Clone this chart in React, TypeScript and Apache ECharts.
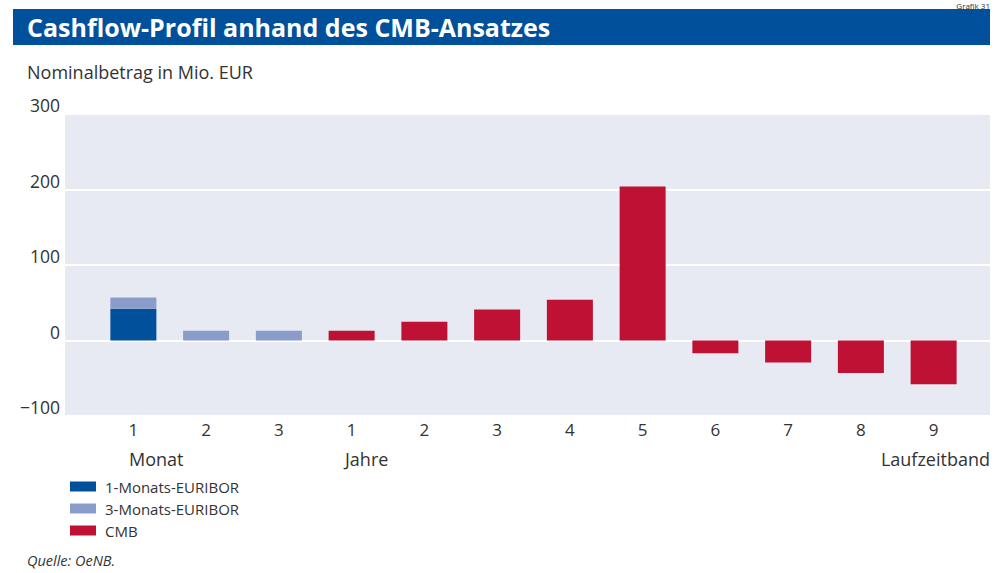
import React, { useEffect, useRef } from "react";
import * as echarts from "echarts";

const categories = ["1", "2", "3", "1", "2", "3", "4", "5", "6", "7", "8", "9"];
const euribor1M: (number | string)[] = [42, "-", "-", "-", "-", "-", "-", "-", "-", "-", "-", "-"];
const euribor3M: (number | string)[] = [15, 13, 13, "-", "-", "-", "-", "-", "-", "-", "-", "-"];
const cmb: (number | string)[] = ["-", "-", "-", 13, 25, 41, 54, 204, -17, -29, -43, -58];
const yTicks = { min: -100, max: 300, interval: 100 };

const FONT = "'Open Sans', Lato, sans-serif";
const TXT = "#333333";

export default function App() {
  const ref = useRef<HTMLDivElement>(null);
  useEffect(() => {
    const chart = echarts.init(ref.current!, null, { renderer: "svg" });
    chart.setOption({
      animation: false,
      textStyle: { fontFamily: FONT },
      grid: [
        { left: 97, right: 27, top: 114, bottom: 157, containLabel: false },
        { left: 65, right: 7, top: 114, bottom: 157, show: true, backgroundColor: "#e7eaf3", borderWidth: 0, z: 0 },
      ],
      xAxis: [
        {
          type: "category",
          data: categories,
          gridIndex: 0,
          axisLine: { show: false },
          axisTick: { show: false },
          axisLabel: { color: TXT, fontSize: 17, fontFamily: FONT, margin: 5 },
        },
        { type: "value", gridIndex: 1, show: false, min: 0, max: 1 },
      ],
      yAxis: [
        {
          type: "value",
          gridIndex: 0,
          ...yTicks,
          splitLine: { show: false },
          axisLine: { show: false },
          axisTick: { show: false },
          axisLabel: {
            color: TXT,
            fontSize: 17.5,
            fontFamily: FONT,
            margin: 37,
            verticalAlign: "bottom",
            lineHeight: 18,
            formatter: (v: number) => String(v).replace("-", "\u2212"),
          },
        },
        {
          type: "value",
          gridIndex: 1,
          ...yTicks,
          axisLabel: { show: false },
          axisLine: { show: false },
          axisTick: { show: false },
          splitLine: { show: true, lineStyle: { color: "#ffffff", width: 2 } },
        },
      ],
      legend: {
        orient: "vertical",
        left: 65,
        top: 474,
        itemWidth: 26,
        itemHeight: 10,
        itemGap: 7,
        icon: "rect",
        textStyle: { color: TXT, fontSize: 15, fontFamily: FONT, padding: [0, 0, 0, 4] },
        data: ["1-Monats-EURIBOR", "3-Monats-EURIBOR", "CMB"],
      },
      series: [
        { name: "1-Monats-EURIBOR", type: "bar", stack: "a", data: euribor1M, barWidth: 46, itemStyle: { color: "#00509b" }, z: 3 },
        { name: "3-Monats-EURIBOR", type: "bar", stack: "a", data: euribor3M, barWidth: 46, itemStyle: { color: "#8a9cc9" }, z: 3 },
        { name: "CMB", type: "bar", stack: "a", data: cmb, barWidth: 46, itemStyle: { color: "#be1134" }, z: 3 },
      ],
      graphic: [
        { type: "rect", shape: { x: 13, y: 9, width: 977, height: 36 }, style: { fill: "#00509b" } },
        {
          type: "text",
          x: 27,
          y: 27,
          style: { text: "Cashflow-Profil anhand des CMB-Ansatzes", fill: "#ffffff", font: `bold 25px ${FONT}`, verticalAlign: "middle" },
        },
        { type: "text", x: 990, y: 1, style: { text: "Grafik 31", fill: TXT, font: `8px ${FONT}`, align: "right", verticalAlign: "top" } },
        { type: "text", x: 27, y: 72, style: { text: "Nominalbetrag in Mio. EUR", fill: TXT, font: `18px ${FONT}`, verticalAlign: "middle" } },
        { type: "text", x: 129, y: 459, style: { text: "Monat", fill: TXT, font: `18px ${FONT}`, verticalAlign: "middle" } },
        { type: "text", x: 345, y: 459, style: { text: "Jahre", fill: TXT, font: `18px ${FONT}`, verticalAlign: "middle" } },
        { type: "text", x: 990, y: 459, style: { text: "Laufzeitband", fill: TXT, font: `18px ${FONT}`, align: "right", verticalAlign: "middle" } },
        { type: "text", x: 27, y: 560, style: { text: "Quelle: OeNB.", fill: TXT, font: `italic 14.5px ${FONT}`, verticalAlign: "middle" } },
      ],
    });
    return () => chart.dispose();
  }, []);
  return <div ref={ref} style={{ position: "fixed", left: 0, top: 0, width: 997, height: 573, background: "#fff" }} />;
}
